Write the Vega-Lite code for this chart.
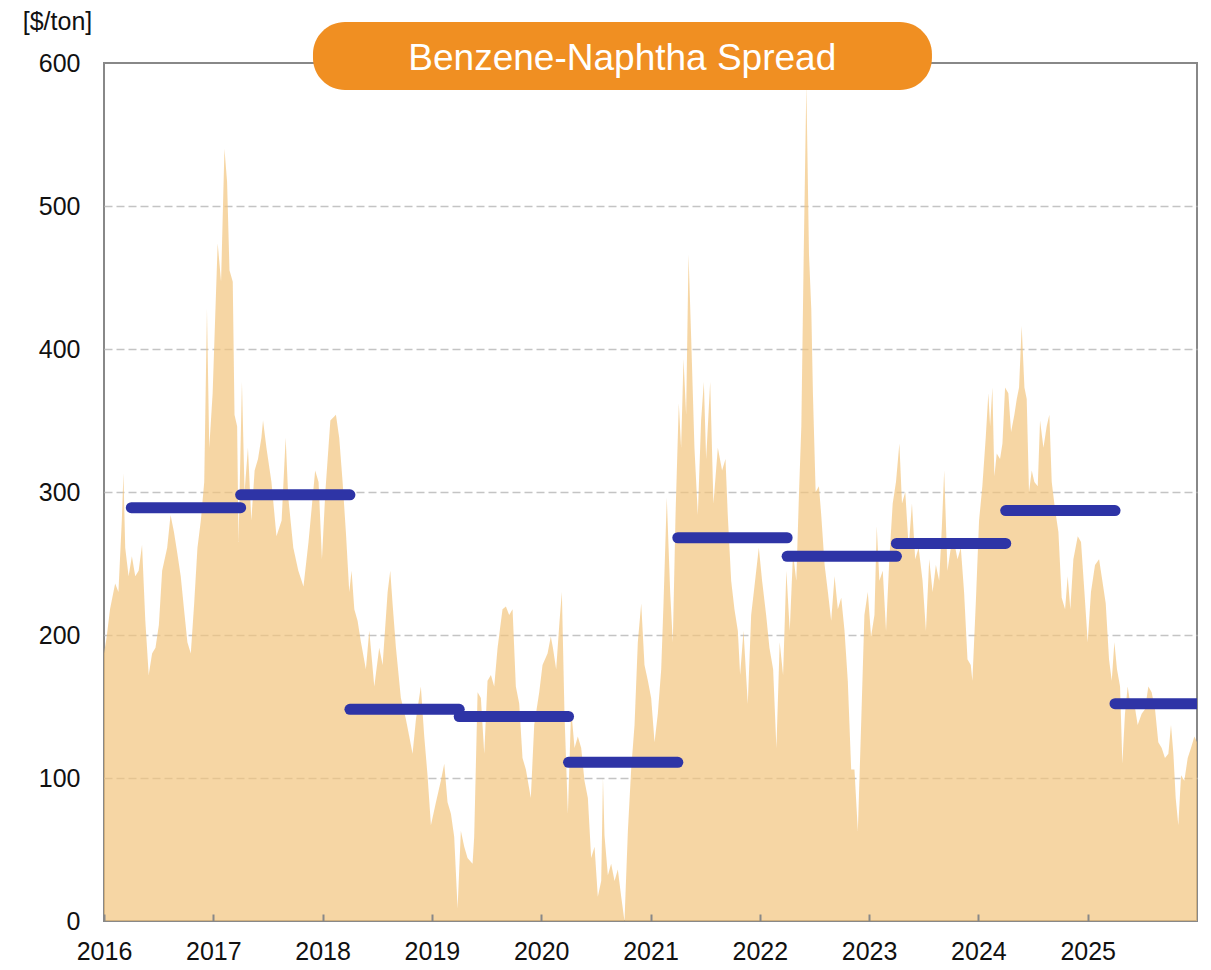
{
  "$schema": "https://vega.github.io/schema/vega-lite/v6.json",
  "width": 1093,
  "height": 858,
  "autosize": {"type": "none"},
  "padding": {"left": 104, "top": 63, "right": 14, "bottom": 49},
  "background": "white",
  "config": {
    "view": {"stroke": "#888888", "strokeWidth": 2},
    "font": "Liberation Sans",
    "axis": {"labelFont": "Liberation Sans", "labelFontSize": 25, "labelColor": "#111111", "titleFont": "Liberation Sans"}
  },
  "datasets": {
    "spread": [
      {"t":2016.000,"v":187},{"t":2016.025,"v":199},{"t":2016.055,"v":218},{"t":2016.102,"v":236},{"t":2016.132,"v":230},{"t":2016.163,"v":280},{"t":2016.178,"v":313},{"t":2016.194,"v":261},{"t":2016.225,"v":241},{"t":2016.255,"v":255},{"t":2016.286,"v":241},{"t":2016.317,"v":245},{"t":2016.348,"v":263},{"t":2016.378,"v":210},{"t":2016.409,"v":172},{"t":2016.440,"v":187},{"t":2016.471,"v":191},{"t":2016.502,"v":207},{"t":2016.532,"v":245},{"t":2016.578,"v":261},{"t":2016.609,"v":284},{"t":2016.640,"v":272},{"t":2016.671,"v":257},{"t":2016.702,"v":241},{"t":2016.732,"v":218},{"t":2016.763,"v":195},{"t":2016.794,"v":187},{"t":2016.825,"v":222},{"t":2016.855,"v":261},{"t":2016.886,"v":280},{"t":2016.917,"v":307},{"t":2016.942,"v":428},{"t":2016.963,"v":331},{"t":2016.994,"v":369},{"t":2017.040,"v":474},{"t":2017.071,"v":447},{"t":2017.102,"v":540},{"t":2017.126,"v":517},{"t":2017.148,"v":455},{"t":2017.178,"v":447},{"t":2017.194,"v":354},{"t":2017.218,"v":346},{"t":2017.231,"v":265},{"t":2017.262,"v":377},{"t":2017.286,"v":300},{"t":2017.317,"v":331},{"t":2017.348,"v":280},{"t":2017.378,"v":315},{"t":2017.409,"v":323},{"t":2017.440,"v":338},{"t":2017.455,"v":350},{"t":2017.486,"v":331},{"t":2017.532,"v":307},{"t":2017.578,"v":269},{"t":2017.625,"v":280},{"t":2017.662,"v":338},{"t":2017.686,"v":296},{"t":2017.732,"v":261},{"t":2017.778,"v":245},{"t":2017.825,"v":234},{"t":2017.871,"v":265},{"t":2017.932,"v":315},{"t":2017.963,"v":307},{"t":2017.994,"v":253},{"t":2018.025,"v":300},{"t":2018.071,"v":350},
      {"t":2018.122,"v":354},{"t":2018.152,"v":338},{"t":2018.183,"v":307},{"t":2018.213,"v":272},{"t":2018.244,"v":230},{"t":2018.265,"v":245},{"t":2018.290,"v":218},{"t":2018.320,"v":210},{"t":2018.351,"v":195},{"t":2018.396,"v":176},{"t":2018.427,"v":203},{"t":2018.473,"v":164},{"t":2018.518,"v":191},{"t":2018.549,"v":179},{"t":2018.595,"v":230},{"t":2018.619,"v":245},{"t":2018.640,"v":222},{"t":2018.671,"v":191},{"t":2018.716,"v":156},{"t":2018.762,"v":141},{"t":2018.793,"v":129},{"t":2018.823,"v":117},{"t":2018.854,"v":141},{"t":2018.899,"v":164},{"t":2018.930,"v":129},{"t":2018.960,"v":102},{"t":2018.991,"v":67},{"t":2019.037,"v":83},{"t":2019.082,"v":98},{"t":2019.113,"v":110},{"t":2019.143,"v":83},{"t":2019.174,"v":75},{"t":2019.204,"v":59},{"t":2019.235,"v":9},{"t":2019.265,"v":63},{"t":2019.296,"v":52},{"t":2019.326,"v":44},{"t":2019.372,"v":40},{"t":2019.387,"v":59},{"t":2019.418,"v":160},{"t":2019.448,"v":156},{"t":2019.479,"v":117},{"t":2019.509,"v":168},{"t":2019.540,"v":172},{"t":2019.570,"v":164},{"t":2019.601,"v":191},{"t":2019.646,"v":218},{"t":2019.677,"v":220},{"t":2019.707,"v":214},{"t":2019.738,"v":218},{"t":2019.768,"v":164},{"t":2019.799,"v":152},{"t":2019.829,"v":114},{"t":2019.860,"v":106},{"t":2019.905,"v":86},{"t":2019.936,"v":137},{"t":2019.982,"v":160},{"t":2020.012,"v":179},{"t":2020.058,"v":187},{"t":2020.088,"v":199},
      {"t":2020.107,"v":191},{"t":2020.137,"v":176},{"t":2020.168,"v":210},{"t":2020.189,"v":230},{"t":2020.213,"v":145},{"t":2020.244,"v":75},{"t":2020.274,"v":148},{"t":2020.305,"v":121},{"t":2020.335,"v":129},{"t":2020.366,"v":121},{"t":2020.396,"v":98},{"t":2020.427,"v":86},{"t":2020.457,"v":44},{"t":2020.488,"v":52},{"t":2020.518,"v":17},{"t":2020.549,"v":28},{"t":2020.565,"v":100},{"t":2020.579,"v":60},{"t":2020.610,"v":32},{"t":2020.640,"v":40},{"t":2020.671,"v":28},{"t":2020.701,"v":36},{"t":2020.732,"v":17},{"t":2020.762,"v":0},{"t":2020.793,"v":63},{"t":2020.823,"v":106},{"t":2020.854,"v":137},{"t":2020.884,"v":195},{"t":2020.915,"v":222},{"t":2020.945,"v":179},{"t":2020.976,"v":168},{"t":2021.006,"v":156},{"t":2021.037,"v":125},{"t":2021.067,"v":145},{"t":2021.098,"v":176},{"t":2021.119,"v":222},{"t":2021.149,"v":296},{"t":2021.180,"v":230},{"t":2021.204,"v":195},{"t":2021.229,"v":284},{"t":2021.259,"v":362},{"t":2021.280,"v":331},{"t":2021.302,"v":393},{"t":2021.326,"v":354},{"t":2021.348,"v":466},{"t":2021.372,"v":408},{"t":2021.402,"v":331},{"t":2021.433,"v":284},{"t":2021.463,"v":350},{"t":2021.488,"v":377},{"t":2021.509,"v":323},{"t":2021.546,"v":377},{"t":2021.576,"v":292},{"t":2021.616,"v":331},{"t":2021.655,"v":315},{"t":2021.686,"v":323},{"t":2021.707,"v":284},{"t":2021.738,"v":238},{"t":2021.768,"v":218},{"t":2021.799,"v":203},{"t":2021.820,"v":172},{"t":2021.851,"v":203},{"t":2021.890,"v":152},{"t":2021.921,"v":214},{"t":2021.951,"v":234},{"t":2021.991,"v":261},{"t":2022.021,"v":238},{"t":2022.058,"v":214},{"t":2022.088,"v":191},
      {"t":2022.122,"v":176},{"t":2022.152,"v":121},{"t":2022.182,"v":195},{"t":2022.213,"v":172},{"t":2022.243,"v":245},{"t":2022.274,"v":203},{"t":2022.304,"v":257},{"t":2022.334,"v":238},{"t":2022.359,"v":300},{"t":2022.380,"v":346},{"t":2022.401,"v":462},{"t":2022.426,"v":585},{"t":2022.450,"v":466},{"t":2022.471,"v":428},{"t":2022.486,"v":369},{"t":2022.511,"v":300},{"t":2022.541,"v":304},{"t":2022.562,"v":284},{"t":2022.593,"v":249},{"t":2022.623,"v":230},{"t":2022.653,"v":210},{"t":2022.684,"v":241},{"t":2022.714,"v":218},{"t":2022.745,"v":226},{"t":2022.775,"v":203},{"t":2022.805,"v":168},{"t":2022.836,"v":106},{"t":2022.866,"v":106},{"t":2022.897,"v":63},{"t":2022.927,"v":137},{"t":2022.957,"v":214},{"t":2022.988,"v":230},{"t":2023.018,"v":199},{"t":2023.049,"v":214},{"t":2023.070,"v":276},{"t":2023.094,"v":238},{"t":2023.125,"v":245},{"t":2023.155,"v":203},{"t":2023.185,"v":253},{"t":2023.216,"v":292},{"t":2023.246,"v":307},{"t":2023.277,"v":334},{"t":2023.301,"v":292},{"t":2023.331,"v":300},{"t":2023.362,"v":261},{"t":2023.392,"v":292},{"t":2023.422,"v":253},{"t":2023.453,"v":261},{"t":2023.489,"v":238},{"t":2023.520,"v":203},{"t":2023.550,"v":253},{"t":2023.581,"v":230},{"t":2023.611,"v":249},{"t":2023.641,"v":238},{"t":2023.666,"v":276},{"t":2023.687,"v":315},{"t":2023.717,"v":245},{"t":2023.748,"v":261},{"t":2023.778,"v":265},{"t":2023.809,"v":253},{"t":2023.839,"v":261},{"t":2023.869,"v":230},{"t":2023.900,"v":183},{"t":2023.930,"v":179},{"t":2023.945,"v":168},{"t":2023.976,"v":222},{"t":2024.006,"v":280},{"t":2024.036,"v":304},{"t":2024.067,"v":338},{"t":2024.091,"v":369},
      {"t":2024.107,"v":346},{"t":2024.128,"v":373},{"t":2024.146,"v":311},{"t":2024.168,"v":327},{"t":2024.198,"v":323},{"t":2024.220,"v":334},{"t":2024.244,"v":373},{"t":2024.274,"v":369},{"t":2024.299,"v":342},{"t":2024.329,"v":354},{"t":2024.351,"v":365},{"t":2024.372,"v":373},{"t":2024.396,"v":416},{"t":2024.421,"v":373},{"t":2024.442,"v":365},{"t":2024.463,"v":300},{"t":2024.488,"v":315},{"t":2024.512,"v":307},{"t":2024.543,"v":304},{"t":2024.564,"v":350},{"t":2024.595,"v":331},{"t":2024.625,"v":346},{"t":2024.649,"v":354},{"t":2024.671,"v":307},{"t":2024.701,"v":288},{"t":2024.732,"v":272},{"t":2024.762,"v":226},{"t":2024.793,"v":218},{"t":2024.817,"v":241},{"t":2024.841,"v":218},{"t":2024.869,"v":253},{"t":2024.909,"v":269},{"t":2024.939,"v":265},{"t":2024.970,"v":230},{"t":2025.000,"v":195},{"t":2025.030,"v":230},{"t":2025.067,"v":249},{"t":2025.104,"v":253},{"t":2025.134,"v":238},{"t":2025.165,"v":222},{"t":2025.195,"v":183},{"t":2025.220,"v":168},{"t":2025.244,"v":195},{"t":2025.268,"v":176},{"t":2025.296,"v":164},{"t":2025.317,"v":110},{"t":2025.341,"v":145},{"t":2025.366,"v":164},{"t":2025.396,"v":148},{"t":2025.427,"v":152},{"t":2025.457,"v":137},{"t":2025.494,"v":145},{"t":2025.524,"v":148},{"t":2025.555,"v":164},{"t":2025.585,"v":160},{"t":2025.616,"v":148},{"t":2025.646,"v":125},{"t":2025.677,"v":121},{"t":2025.707,"v":114},{"t":2025.738,"v":117},{"t":2025.762,"v":137},{"t":2025.784,"v":117},{"t":2025.805,"v":86},{"t":2025.829,"v":67},{"t":2025.854,"v":102},{"t":2025.884,"v":98},{"t":2025.915,"v":114},{"t":2025.945,"v":121},{"t":2025.976,"v":129},{"t":2026.000,"v":125}
    ],
    "fy": [
      {"start":2016.25,"end":2017.25,"avg":289},
      {"start":2017.25,"end":2018.25,"avg":298},
      {"start":2018.25,"end":2019.25,"avg":148},
      {"start":2019.25,"end":2020.25,"avg":143},
      {"start":2020.25,"end":2021.25,"avg":111},
      {"start":2021.25,"end":2022.25,"avg":268},
      {"start":2022.25,"end":2023.25,"avg":255},
      {"start":2023.25,"end":2024.25,"avg":264},
      {"start":2024.25,"end":2025.25,"avg":287},
      {"start":2025.25,"end":2026.25,"avg":152}
    ]
  },
  "layer": [
    {
      "data": {"name": "spread"},
      "mark": {"type": "area", "color": "#F2C47D", "fillOpacity": 0.7, "interpolate": "linear", "clip": true},
      "encoding": {
        "x": {"field": "t", "type": "quantitative",
              "scale": {"domain": [2016, 2026], "nice": false, "zero": false},
              "axis": {"values": [2016,2017,2018,2019,2020,2021,2022,2023,2024,2025], "format": "d", "title": null,
                       "domain": false, "grid": false, "ticks": true, "tickSize": -7, "tickColor": "#888888", "tickWidth": 2,
                       "labelPadding": 25, "labelBaseline": "top", "labelFlush": false, "zindex": 1}},
        "y": {"field": "v", "type": "quantitative",
              "scale": {"domain": [0, 600], "nice": false},
              "axis": {"values": [0,100,200,300,400,500,600], "title": "[$/ton]", "titleAngle": 0, "titleAlign": "center",
                       "titleX": -47, "titleY": -34, "titleBaseline": "alphabetic", "titleFontSize": 25, "titleFontWeight": "normal", "titleColor": "#111111",
                       "domain": false, "ticks": false, "labelPadding": 24, "labelFlush": false,
                       "grid": true, "gridColor": "#c4c4c4", "gridDash": [8, 4], "gridWidth": 1.5,
                       "gridOpacity": {"condition": {"test": "datum.value <= 0 || datum.value >= 600", "value": 0}, "value": 1},
                       "zindex": 0}}
      }
    },
    {
      "data": {"name": "fy"},
      "mark": {"type": "rule", "color": "#2E34A6", "strokeWidth": 11, "strokeCap": "round", "clip": true},
      "encoding": {
        "x": {"field": "start", "type": "quantitative"},
        "x2": {"field": "end"},
        "y": {"field": "avg", "type": "quantitative"}
      }
    },
    {
      "data": {"values": [{"label": "Benzene-Naphtha Spread"}]},
      "mark": {"type": "rect", "color": "#F08F22", "cornerRadius": 32},
      "encoding": {
        "x": {"datum": 2017.912, "type": "quantitative"},
        "x2": {"datum": 2023.575},
        "y": {"datum": 628.7, "type": "quantitative"},
        "y2": {"datum": 581.1}
      }
    },
    {
      "data": {"values": [{"label": "Benzene-Naphtha Spread"}]},
      "mark": {"type": "text", "color": "white", "font": "Liberation Sans", "fontSize": 37, "align": "center", "baseline": "alphabetic"},
      "encoding": {
        "x": {"datum": 2020.742, "type": "quantitative"},
        "y": {"datum": 595.1, "type": "quantitative"},
        "text": {"field": "label"}
      }
    }
  ]
}
